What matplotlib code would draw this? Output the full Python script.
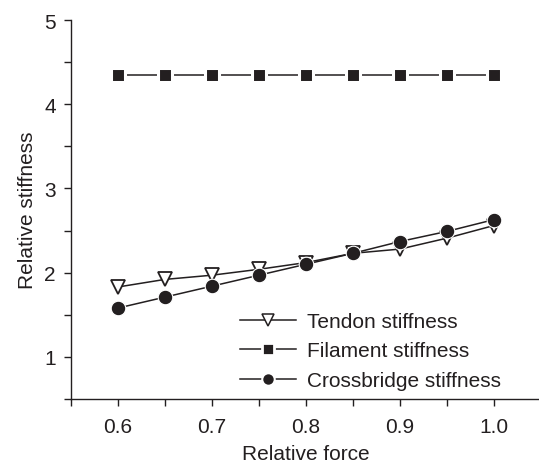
import matplotlib.pyplot as plt
from matplotlib.lines import Line2D
from matplotlib.ticker import MultipleLocator

plt.rcParams['font.family'] = ['Liberation Sans', 'DejaVu Sans']
plt.rcParams['font.size'] = 15

force = [0.60, 0.65, 0.70, 0.75, 0.80, 0.85, 0.90, 0.95, 1.00]
tendon = [1.83, 1.92, 1.97, 2.04, 2.12, 2.23, 2.28, 2.41, 2.56]
filament = [4.35, 4.35, 4.35, 4.35, 4.35, 4.35, 4.35, 4.35, 4.35]
crossbridge = [1.58, 1.71, 1.84, 1.97, 2.10, 2.23, 2.37, 2.49, 2.63]

labels = ['Tendon stiffness', 'Filament stiffness', 'Crossbridge stiffness']
ink = '#231f20'

fig = plt.figure(figsize=(5.39, 4.64), dpi=100)
ax = fig.add_axes([71 / 539, 64 / 464, 470 / 539, 379 / 464])

ax.plot(force, tendon, color=ink, lw=1.1, marker='v', ms=10.5,
        mfc='white', mec=ink, mew=1.3, zorder=3)
ax.plot(force, filament, color=ink, lw=1.1, marker='s', ms=10,
        mfc=ink, mec='white', mew=2.2, zorder=3)
ax.plot(force, crossbridge, color=ink, lw=1.1, marker='o', ms=10.5,
        mfc=ink, mec='white', mew=0.8, zorder=4)

ax.set_xlim(0.55, 1.05)
ax.set_ylim(0.5, 5.0)
ax.xaxis.set_minor_locator(MultipleLocator(0.05))
ax.yaxis.set_minor_locator(MultipleLocator(0.5))
ax.set_xticks([0.6, 0.7, 0.8, 0.9, 1.0])
ax.set_xticklabels(['0.6', '0.7', '0.8', '0.9', '1.0'])
ax.set_yticks([1, 2, 3, 4, 5])

for side in ('top', 'right'):
    ax.spines[side].set_visible(False)
for side in ('left', 'bottom'):
    ax.spines[side].set_color(ink)
    ax.spines[side].set_linewidth(1.0)
ax.tick_params(which='both', direction='out', length=5, width=1.0,
               color=ink, labelcolor=ink)
ax.tick_params(axis='x', pad=8)
ax.tick_params(axis='y', pad=6)

ax.set_xlabel('Relative force', color=ink, labelpad=6)
ax.set_ylabel('Relative stiffness', color=ink, labelpad=5)

handles = [
    Line2D([], [], color=ink, lw=1.1, marker='v', ms=8, mfc='white', mec=ink, mew=1.1),
    Line2D([], [], color=ink, lw=1.1, marker='s', ms=9, mfc=ink, mec='white', mew=2.0),
    Line2D([], [], color=ink, lw=1.1, marker='o', ms=9, mfc=ink, mec='white', mew=1.5),
]
leg = fig.legend(handles, labels, loc='upper left', bbox_to_anchor=(240 / 539, 1 - 313 / 464),
                 frameon=False, borderpad=0, borderaxespad=0, handlelength=2.7,
                 handletextpad=0.5, labelspacing=0.5)
for t in leg.get_texts():
    t.set_color(ink)

fig.savefig('out.png', dpi=100)
